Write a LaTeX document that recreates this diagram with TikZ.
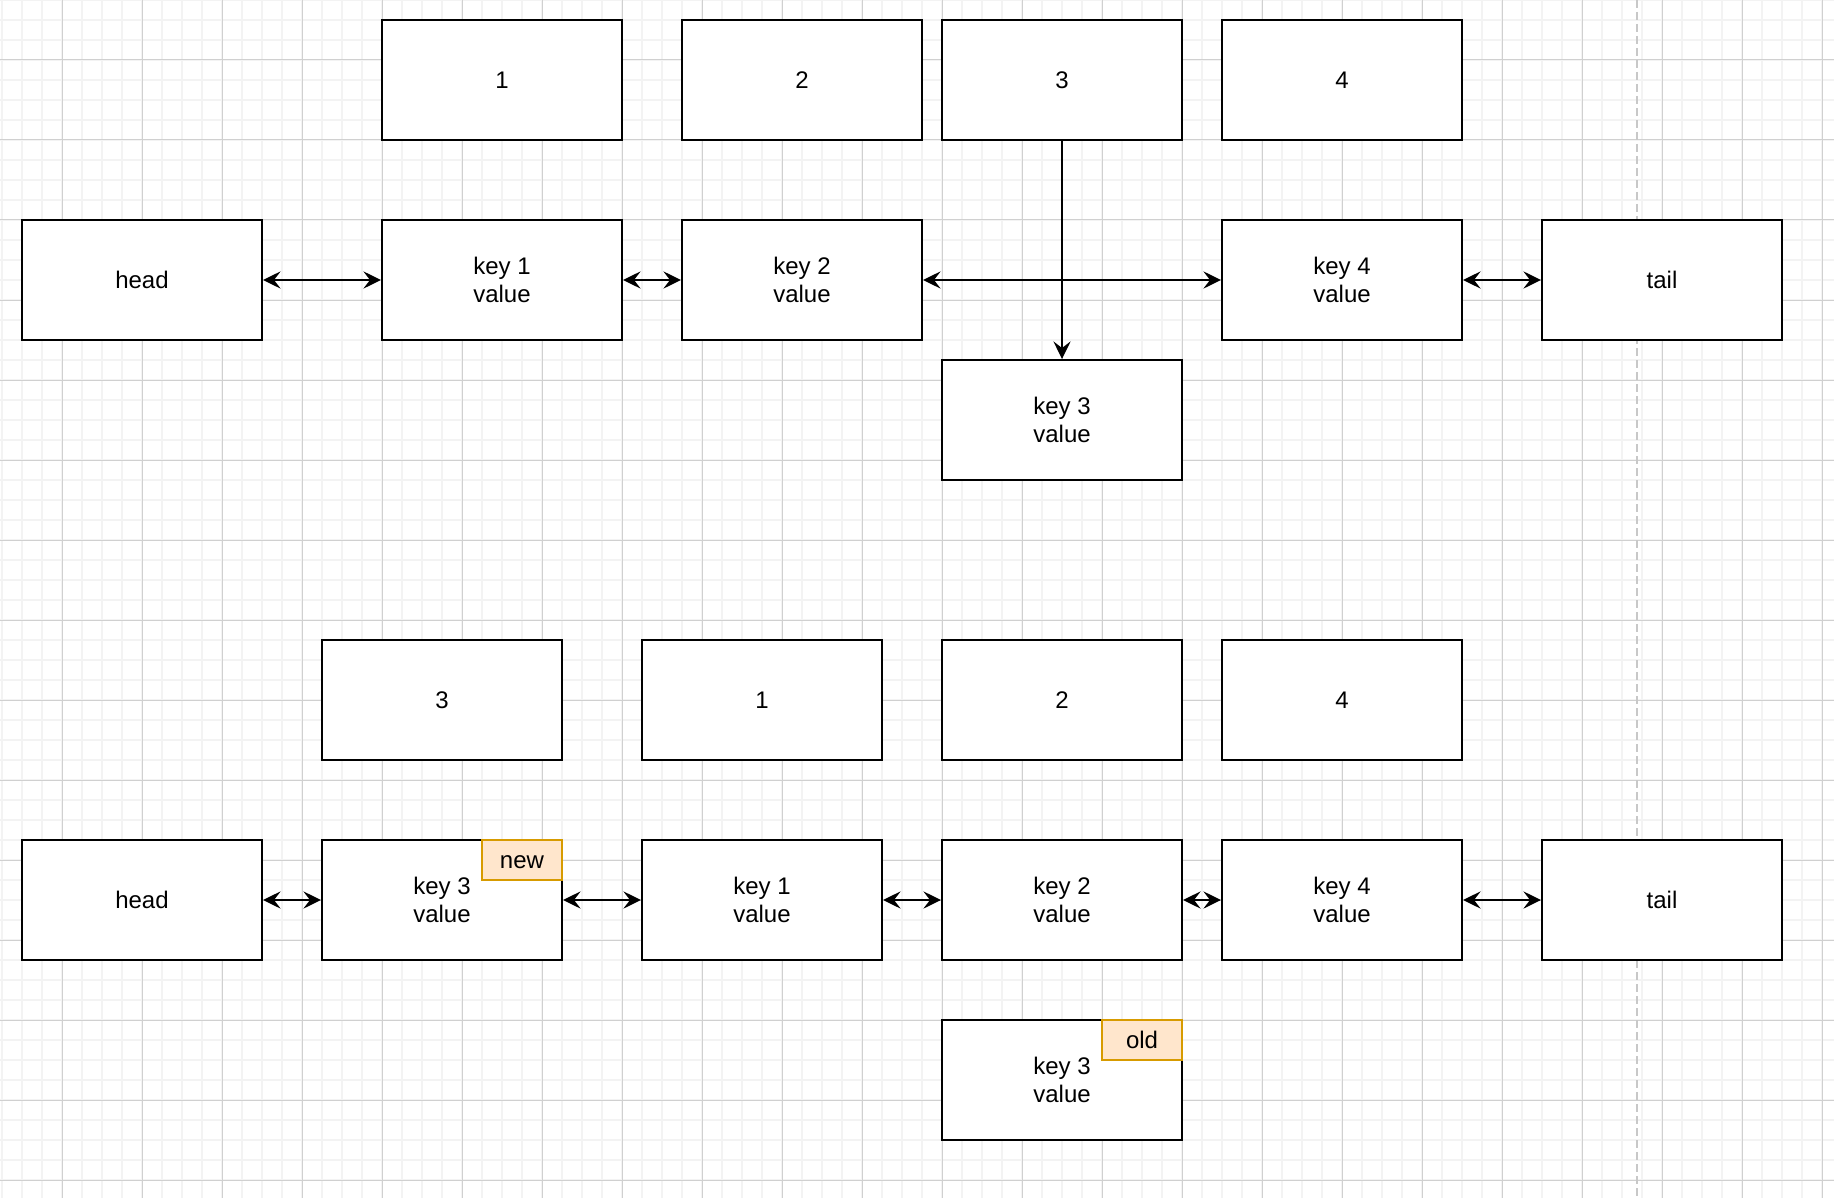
\documentclass[tikz,border=0pt]{standalone}
\usepackage{fontspec}
\setmainfont{Liberation Sans}
\usetikzlibrary{arrows.meta}
\definecolor{gridlight}{HTML}{F3F3F3}
\definecolor{griddark}{HTML}{D0D0D0}
\definecolor{pagegray}{HTML}{C8C8C8}
\definecolor{tagfill}{HTML}{FFE6CC}
\definecolor{tagline}{HTML}{D79B00}
\begin{document}
\begin{tikzpicture}[x=0.5pt,y=-0.5pt,
    link/.style={{Stealth[length=8.8pt,width=8.6pt,inset=3.3pt]}-{Stealth[length=8.8pt,width=8.6pt,inset=3.3pt]},line width=1pt},
    ptr/.style={-{Stealth[length=8.8pt,width=8.6pt,inset=3.3pt]},line width=1pt}]
    \tikzstyle{cell}=[draw,fill=white,line width=1pt,minimum width=120pt,minimum height=60pt,inner sep=0pt,align=center,font=\fontsize{12}{14}\selectfont]
    \tikzstyle{tag}=[draw=tagline,fill=tagfill,line width=1pt,minimum width=40pt,minimum height=20pt,inner sep=0pt,text height=8.6pt,text depth=0pt,font=\fontsize{12}{14}\selectfont]

    \useasboundingbox (0,0) rectangle (1834,1198);
    \fill[white] (0,0) rectangle (1834,1198);
    % background grid
    \foreach \i in {0,...,91} \draw[gridlight,line width=0.8pt] (2+20*\i,0) -- (2+20*\i,1198);
    \foreach \i in {0,...,59} \draw[gridlight,line width=0.8pt] (0,20*\i) -- (1834,20*\i);
    \foreach \i in {0,...,22} \draw[griddark,line width=0.5pt] (62+80*\i,0) -- (62+80*\i,1198);
    \foreach \i in {0,...,14} \draw[griddark,line width=0.5pt] (0,60+80*\i) -- (1834,60+80*\i);
    \draw[pagegray,line width=1pt,dash pattern=on 4pt off 2pt] (1637,0) -- (1637,1198);

    % before
    \node[cell] (b1) at (502,80) {1};
    \node[cell] (b2) at (802,80) {2};
    \node[cell] (b3) at (1062,80) {3};
    \node[cell] (b4) at (1342,80) {4};

    \node[cell] (hd) at (142,280) {head};
    \node[cell] (n1) at (502,280) {key 1\\value};
    \node[cell] (n2) at (802,280) {key 2\\value};
    \node[cell] (n4) at (1342,280) {key 4\\value};
    \node[cell] (tl) at (1662,280) {tail};
    \node[cell] (n3) at (1062,420) {key 3\\value};

    \draw[link] (hd) -- (n1);
    \draw[link] (n1) -- (n2);
    \draw[link] (n2) -- (n4);
    \draw[link] (n4) -- (tl);
    \draw[ptr] (b3) -- (n3);

    % after
    \node[cell] (lb3) at (442,700) {3};
    \node[cell] (lb1) at (762,700) {1};
    \node[cell] (lb2) at (1062,700) {2};
    \node[cell] (lb4) at (1342,700) {4};

    \node[cell] (lhd) at (142,900) {head};
    \node[cell] (ln3) at (442,900) {key 3\\value};
    \node[cell] (ln1) at (762,900) {key 1\\value};
    \node[cell] (ln2) at (1062,900) {key 2\\value};
    \node[cell] (ln4) at (1342,900) {key 4\\value};
    \node[cell] (ltl) at (1662,900) {tail};
    \node[cell] (old3) at (1062,1080) {key 3\\value};

    \node[tag,anchor=north east] (tnew) at (ln3.north east) {new};
    \node[tag,anchor=north east] (told) at (old3.north east) {old};

    \draw[link] (lhd) -- (ln3);
    \draw[link] (ln3) -- (ln1);
    \draw[link] (ln1) -- (ln2);
    \draw[link] (ln2) -- (ln4);
    \draw[link] (ln4) -- (ltl);

\end{tikzpicture}
\end{document}
